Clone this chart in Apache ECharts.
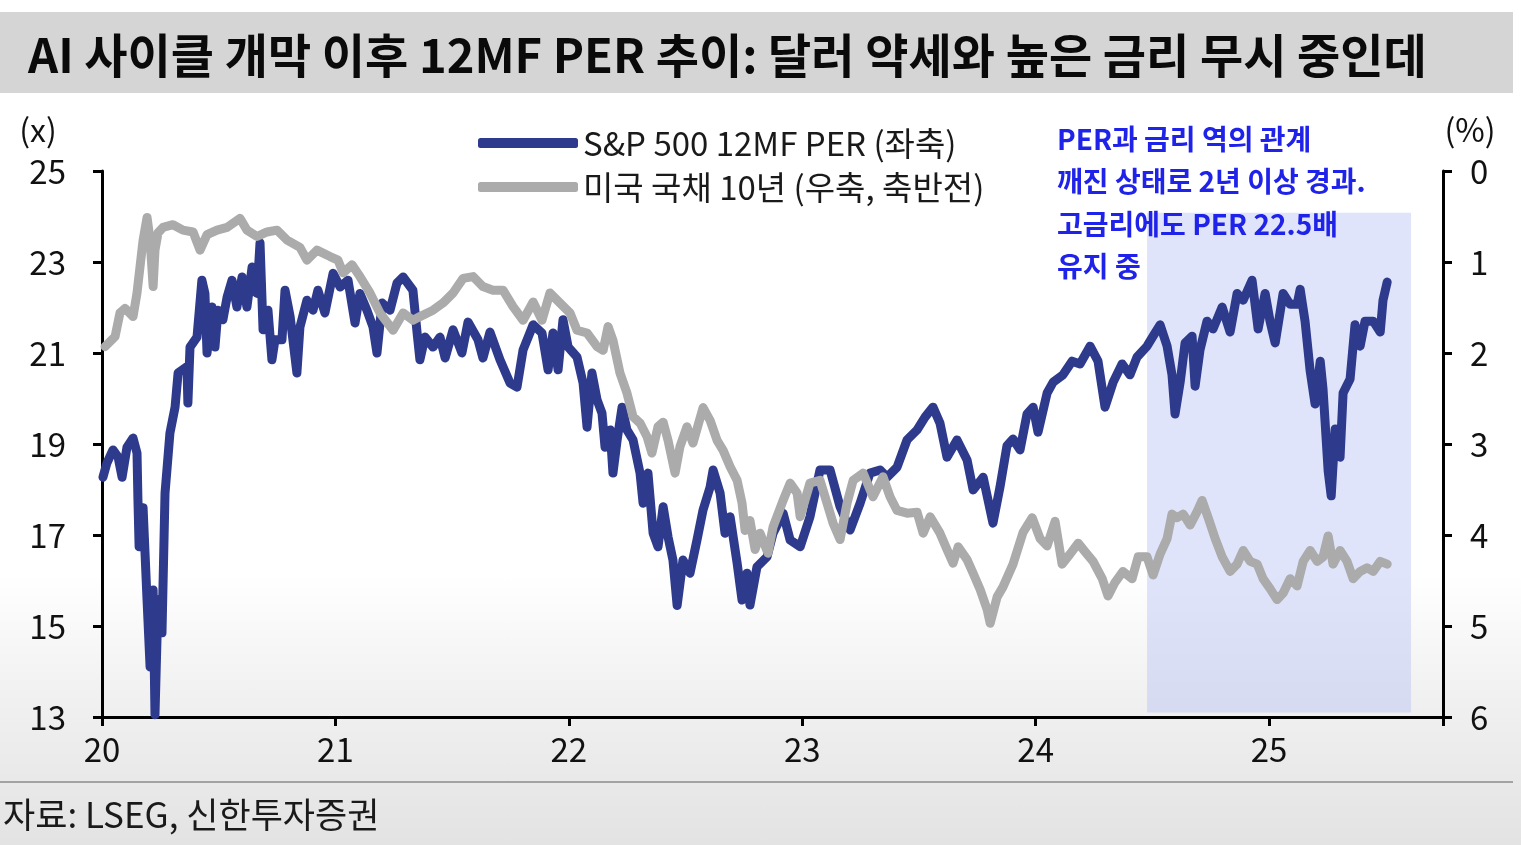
<!DOCTYPE html>
<html>
<head>
<meta charset="utf-8" />
<title>AI 사이클 개막 이후 12MF PER 추이</title>
<script src="https://cdn.jsdelivr.net/npm/echarts@6/dist/echarts.min.js"></script>
<style>
html, body { margin: 0; padding: 0; }
body {
	width: 1521px; height: 845px; overflow: hidden;
	background: linear-gradient(to bottom, #ffffff 0%, #ffffff 68%, #f1f1f1 82%, #e3e3e3 100%);
}
#chart { width: 1521px; height: 845px; }
</style>
</head>
<body>
<div id="chart"></div>
<script type="text/javascript">
// x 값은 연도 두 자리 + 소수 (20 = 2020년 초)
var perDates = [20.004,20.021,20.047,20.069,20.086,20.107,20.133,20.150,20.154,20.159,20.176,20.193,20.206,20.219,20.227,20.240,20.257,20.270,20.291,20.313,20.326,20.364,20.368,20.377,20.407,20.428,20.441,20.450,20.471,20.484,20.497,20.518,20.536,20.557,20.578,20.600,20.621,20.643,20.664,20.677,20.690,20.711,20.728,20.741,20.771,20.784,20.806,20.835,20.848,20.878,20.904,20.925,20.955,20.990,
	21.020,21.054,21.084,21.105,21.135,21.161,21.178,21.200,21.234,21.264,21.290,21.332,21.350,21.362,21.384,21.418,21.448,21.470,21.504,21.542,21.568,21.611,21.632,21.662,21.705,21.748,21.778,21.804,21.847,21.885,21.911,21.932,21.954,21.975,21.997,
	22.035,22.061,22.078,22.099,22.121,22.142,22.155,22.177,22.189,22.207,22.228,22.249,22.275,22.305,22.318,22.339,22.361,22.382,22.404,22.425,22.446,22.464,22.489,22.519,22.549,22.575,22.605,22.618,22.648,22.669,22.691,22.721,22.742,22.763,22.776,22.806,22.849,22.875,22.918,22.948,22.991,
	23.033,23.076,23.119,23.162,23.205,23.248,23.290,23.333,23.363,23.406,23.449,23.492,23.526,23.560,23.590,23.620,23.663,23.706,23.732,23.775,23.817,23.847,23.877,23.903,23.933,23.963,23.989,
	24.010,24.049,24.075,24.117,24.156,24.190,24.233,24.267,24.297,24.332,24.370,24.404,24.434,24.477,24.503,24.533,24.563,24.584,24.597,24.619,24.640,24.670,24.683,24.704,24.734,24.760,24.799,24.833,24.863,24.889,24.927,24.953,24.983,
	25.004,25.026,25.060,25.090,25.120,25.133,25.154,25.176,25.197,25.219,25.231,25.253,25.266,25.283,25.304,25.317,25.347,25.368,25.390,25.411,25.446,25.476,25.488,25.506];
var perValues = [18.27,18.58,18.87,18.71,18.27,18.93,19.13,18.80,17.77,16.74,17.60,15.57,14.10,15.79,13.05,15.57,14.85,17.92,19.24,19.81,20.56,20.70,19.90,21.13,21.35,22.60,22.31,21.00,22.01,21.13,21.94,21.73,22.23,22.60,22.01,22.67,22.01,22.89,22.31,23.42,21.51,21.94,20.85,21.29,21.29,22.38,21.80,20.56,21.57,22.16,21.94,22.38,21.88,22.75,
	22.45,22.60,21.66,22.31,21.94,21.57,21.00,22.10,21.94,22.54,22.67,22.38,21.44,20.85,21.35,21.13,21.35,20.89,21.51,21.00,21.68,21.29,20.89,21.46,20.85,20.34,20.25,21.07,21.62,21.44,20.63,21.44,20.63,21.73,21.13,
	20.91,20.34,19.37,20.56,19.97,19.68,18.93,19.31,18.36,19.09,19.81,19.31,19.09,18.36,17.70,18.36,17.04,16.74,17.62,16.96,16.45,15.45,16.45,16.16,16.89,17.55,18.05,18.43,17.92,17.04,17.40,16.38,15.57,16.16,15.46,16.30,16.52,17.04,17.48,16.89,16.74,
	17.40,18.43,18.43,17.62,17.11,17.70,18.36,18.43,18.27,18.49,19.09,19.31,19.59,19.81,19.46,18.71,19.09,18.65,17.99,18.27,17.26,18.05,18.96,19.11,18.87,19.66,19.81,
	19.26,20.12,20.36,20.52,20.82,20.76,21.15,20.82,19.81,20.36,20.76,20.52,20.91,21.15,21.37,21.62,21.15,20.52,19.66,20.36,21.22,21.37,20.27,21.07,21.70,21.53,22.01,21.46,22.31,22.16,22.60,21.53,22.31,
	21.70,21.22,22.31,22.07,22.07,22.40,21.70,20.60,19.88,20.82,20.21,18.41,17.86,19.33,18.71,20.12,20.43,21.62,21.15,21.70,21.70,21.46,22.16,22.56];

var tsyDates = [20.013,20.056,20.077,20.099,20.133,20.150,20.163,20.176,20.193,20.206,20.219,20.227,20.240,20.261,20.304,20.347,20.390,20.420,20.450,20.493,20.536,20.591,20.621,20.664,20.707,20.750,20.793,20.848,20.878,20.921,20.977,
	21.011,21.033,21.071,21.105,21.148,21.191,21.247,21.290,21.332,21.362,21.418,21.461,21.504,21.547,21.590,21.632,21.675,21.718,21.761,21.804,21.847,21.885,21.919,21.962,
	22.005,22.035,22.078,22.121,22.147,22.168,22.189,22.219,22.249,22.275,22.305,22.335,22.356,22.382,22.404,22.425,22.455,22.476,22.506,22.532,22.575,22.605,22.635,22.661,22.691,22.721,22.742,22.755,22.776,22.798,22.819,22.853,22.875,22.918,22.948,22.978,22.991,
	23.033,23.076,23.106,23.132,23.162,23.192,23.218,23.261,23.303,23.346,23.376,23.406,23.449,23.492,23.518,23.548,23.590,23.620,23.646,23.668,23.706,23.732,23.762,23.792,23.805,23.835,23.860,23.903,23.946,23.985,
	24.019,24.049,24.083,24.113,24.147,24.182,24.220,24.246,24.285,24.310,24.340,24.374,24.413,24.439,24.477,24.503,24.533,24.563,24.584,24.606,24.632,24.662,24.692,24.713,24.739,24.769,24.799,24.833,24.863,24.889,24.919,24.949,24.974,
	25.004,25.034,25.060,25.090,25.120,25.146,25.176,25.206,25.231,25.253,25.274,25.304,25.334,25.360,25.390,25.420,25.446,25.476,25.506];
var tsyValues = [1.93,1.82,1.56,1.51,1.60,1.34,1.05,0.76,0.51,0.76,1.27,0.87,0.68,0.62,0.59,0.65,0.67,0.87,0.70,0.65,0.62,0.52,0.65,0.72,0.67,0.65,0.76,0.84,0.98,0.87,0.94,
	0.98,1.12,1.03,1.16,1.34,1.56,1.75,1.56,1.64,1.60,1.53,1.45,1.34,1.18,1.16,1.27,1.31,1.31,1.49,1.64,1.44,1.64,1.34,1.45,
	1.56,1.75,1.78,1.93,1.97,1.71,1.86,2.22,2.44,2.70,2.77,2.92,3.10,2.81,2.76,2.96,3.32,3.03,2.81,2.99,2.60,2.74,2.96,3.07,3.25,3.40,3.65,3.95,3.84,4.16,3.98,4.20,3.91,3.62,3.43,3.54,3.80,
	3.43,3.40,3.65,3.87,4.05,3.65,3.40,3.32,3.58,3.36,3.58,3.73,3.76,3.75,3.98,3.80,3.98,4.16,4.31,4.13,4.27,4.42,4.60,4.82,4.97,4.68,4.57,4.32,3.97,3.81,
	4.04,4.12,3.85,4.32,4.21,4.09,4.21,4.29,4.48,4.67,4.52,4.40,4.48,4.24,4.24,4.44,4.21,4.04,3.77,3.81,3.77,3.89,3.74,3.62,3.81,4.04,4.24,4.40,4.32,4.17,4.29,4.32,4.48,
	4.59,4.71,4.64,4.48,4.56,4.29,4.17,4.29,4.24,4.01,4.32,4.17,4.29,4.48,4.40,4.36,4.40,4.29,4.32];

var yearTicks = [20, 21, 22, 23, 24, 25];
var perTicks = [13, 15, 17, 19, 21, 23, 25];
var rateTicks = [0, 1, 2, 3, 4, 5, 6];
// 음영 구간 (x: 연도, y: 좌축 값)
var shadeRange = [[24.477, 24.08], [25.608, 13.1]];

var seriesNames = ['S&P 500 12MF PER (좌축)', '미국 국채 10년 (우축, 축반전)'];
var titleText = 'AI 사이클 개막 이후 12MF PER 추이: 달러 약세와 높은 금리 무시 중인데';
var noteLines = ['PER과 금리 역의 관계', '깨진 상태로 2년 이상 경과.', '고금리에도 PER 22.5배', '유지 중'];
var sourceText = '자료: LSEG, 신한투자증권';

function zip(a, b){
	var out = [];
	for (var i = 0; i < a.length; i++) out.push([a[i], b[i]]);
	return out;
}

var FONT = '"Noto Sans CJK KR", "Noto Sans", sans-serif';
var axisLine = { show: true, onZero: false, lineStyle: { color: '#000', width: 3 } };
var axisTick = { show: true, inside: false, length: 9, lineStyle: { color: '#000', width: 3 } };

var myChart = echarts.init(document.getElementById('chart'), null, { renderer: 'canvas' });
var option = {
	backgroundColor: 'transparent',
	textStyle: { fontFamily: FONT },
	animation: false,
	grid: { left: 102, right: 78, top: 171, bottom: 128 },
	legend: {
		data: seriesNames,
		orient: 'vertical',
		left: 478,
		top: 121,
		padding: 0,
		itemGap: 0,
		itemWidth: 100,
		itemHeight: 10,
		icon: 'roundRect',
		textStyle: { fontSize: 33, lineHeight: 44, color: '#1a1a1a', fontFamily: FONT }
	},
	xAxis: {
		type: 'value',
		min: yearTicks[0],
		max: 25.745,
		interval: 1,
		axisLine: axisLine,
		axisTick: axisTick,
		splitLine: { show: false },
		axisLabel: {
			fontSize: 33, color: '#111', margin: 16, fontFamily: FONT,
			formatter: function(v){ return yearTicks.indexOf(v) >= 0 ? String(v) : ''; }
		}
	},
	yAxis: [{
		type: 'value',
		position: 'left',
		min: perTicks[0],
		max: perTicks[perTicks.length - 1],
		interval: 2,
		axisLine: axisLine,
		axisTick: axisTick,
		splitLine: { show: false },
		axisLabel: { fontSize: 33, color: '#111', margin: 36, fontFamily: FONT }
	}, {
		type: 'value',
		position: 'right',
		inverse: true,
		min: rateTicks[0],
		max: rateTicks[rateTicks.length - 1],
		interval: 1,
		axisLine: axisLine,
		axisTick: axisTick,
		splitLine: { show: false },
		axisLabel: { fontSize: 33, color: '#111', margin: 27, fontFamily: FONT }
	}],
	series: [{
		name: seriesNames[0],
		type: 'line',
		yAxisIndex: 0,
		showSymbol: false,
		symbol: 'none',
		data: zip(perDates, perValues),
		itemStyle: { color: '#2e3a8c' },
		lineStyle: { color: '#2e3a8c', width: 9, join: 'round', cap: 'round' },
		z: 3,
		markArea: {
			silent: true,
			itemStyle: { color: 'rgba(178,190,246,0.42)' },
			data: [[
				{ xAxis: shadeRange[0][0], yAxis: shadeRange[0][1] },
				{ xAxis: shadeRange[1][0], yAxis: shadeRange[1][1] }
			]]
		}
	}, {
		name: seriesNames[1],
		type: 'line',
		yAxisIndex: 1,
		showSymbol: false,
		symbol: 'none',
		data: zip(tsyDates, tsyValues),
		itemStyle: { color: '#ababab' },
		lineStyle: { color: '#ababab', width: 9, join: 'round', cap: 'round' },
		z: 4
	}],
	graphic: [{
		type: 'rect',
		shape: { x: 0, y: 12, width: 1513, height: 81 },
		style: { fill: '#d5d5d5' },
		z: 0
	}, {
		type: 'text',
		x: 28, y: 55,
		style: { text: titleText, font: 'bold 47px ' + FONT, fill: '#0a0a0a', verticalAlign: 'middle' },
		z: 1
	}, {
		type: 'text',
		x: 38, y: 130,
		style: { text: '(x)', font: '32px ' + FONT, fill: '#111', align: 'center', verticalAlign: 'middle' }
	}, {
		type: 'text',
		x: 1470, y: 130,
		style: { text: '(%)', font: '32px ' + FONT, fill: '#111', align: 'center', verticalAlign: 'middle' }
	}, {
		type: 'text',
		x: 1057, y: 118,
		style: { text: noteLines.join('\n'), font: 'bold 28px ' + FONT, fill: '#1f22e8', lineHeight: 42.5 },
		z: 10
	}, {
		type: 'line',
		shape: { x1: 0, y1: 782, x2: 1513, y2: 782 },
		style: { stroke: '#a3a3a3', lineWidth: 2 }
	}, {
		type: 'text',
		x: 3, y: 815,
		style: { text: sourceText, font: '35px ' + FONT, fill: '#1a1a1a', verticalAlign: 'middle' }
	}]
};
myChart.setOption(option);
</script>
</body>
</html>
